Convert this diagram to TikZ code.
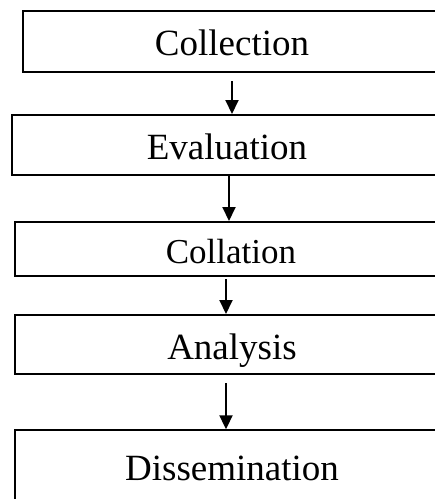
\documentclass[tikz,border=0pt]{standalone}
\usepackage{fontspec}
\setmainfont{Liberation Serif}
\usetikzlibrary{arrows.meta}
\begin{document}
\begin{tikzpicture}[x=1pt,y=-1pt,
  boxshape/.style={draw=black,line width=2pt,rectangle,inner sep=0pt,anchor=north west},
  label/.style={anchor=base,inner sep=0pt,font=\fontsize{37}{40}\selectfont},
  flow/.style={line width=2pt,-{Triangle[width=13pt,length=14pt]}}]
\useasboundingbox (0,0) rectangle (435,499);
\begin{scope}
\clip (0,0) rectangle (435,499);
\node[boxshape,minimum width=440pt,minimum height=61pt] (b1) at (22,9.5) {};
\node[boxshape,minimum width=450pt,minimum height=60pt] (b2) at (11,114) {};
\node[boxshape,minimum width=450pt,minimum height=54pt] (b3) at (14,221) {};
\node[boxshape,minimum width=450pt,minimum height=59pt] (b4) at (14,314) {};
\node[boxshape,minimum width=450pt,minimum height=90pt] (b5) at (14,429.3) {};
\end{scope}
\node[label] (t1) at (232,55) {Collection};
\node[label] (t2) at (227,159) {Evaluation};
\node[label,font=\fontsize{35}{40}\selectfont] (t3) at (231,263) {Collation};
\node[label] (t4) at (232,359) {Analysis};
\node[label] (t5) at (232,480) {Dissemination};
\coordinate (a1s) at (232,81);
\coordinate (a1e) at (232,114);
\coordinate (a2s) at (229,174);
\coordinate (a2e) at (229,221);
\coordinate (a3s) at (226,279);
\coordinate (a3e) at (226,314);
\coordinate (a4s) at (226,383);
\coordinate (a4e) at (226,429.3);
\draw[flow] (a1s) -- (a1e);
\draw[flow] (a2s) -- (a2e);
\draw[flow] (a3s) -- (a3e);
\draw[flow] (a4s) -- (a4e);
\end{tikzpicture}
\end{document}
